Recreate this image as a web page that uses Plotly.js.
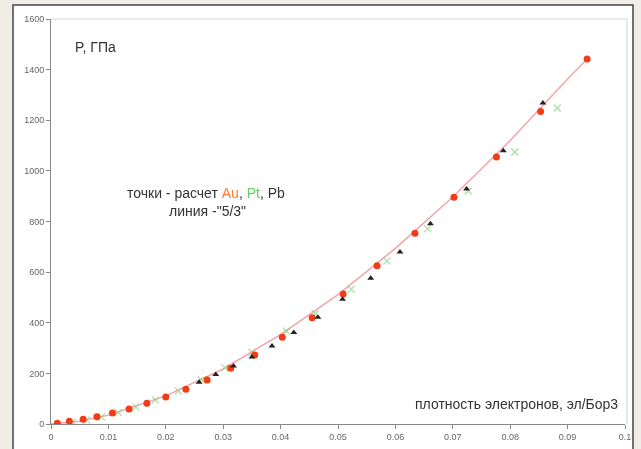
<!DOCTYPE html>
<html>
<head>
<meta charset="utf-8">
<script src="https://cdn.plot.ly/plotly-3.0.1.min.js"></script>
<style>html,body{margin:0;padding:0;background:#efede6;}#chart{width:641px;height:449px;}</style>
</head>
<body>
<div id="chart"></div>
<script>
// Au (red dots)
const auX = [0.0011, 0.0032, 0.0056, 0.0080, 0.0107, 0.0136, 0.0167, 0.0200, 0.0235, 0.0272, 0.0313, 0.0355, 0.0403, 0.0455, 0.0509, 0.0568, 0.0634, 0.0702, 0.0776, 0.0853, 0.0934];
const auY = [3, 11, 19, 29, 43, 59, 82, 107, 137, 174, 220, 273, 343, 420, 514, 625, 754, 896, 1055, 1235, 1442];
// Pt (green crosses)
const ptX = [0.0037, 0.0062, 0.0088, 0.0117, 0.0148, 0.0182, 0.0222, 0.0262, 0.0303, 0.0350, 0.0410, 0.0460, 0.0523, 0.0585, 0.0656, 0.0727, 0.0808, 0.0882];
const ptY = [7, 16, 28, 45, 67, 95, 130, 174, 222, 283, 367, 435, 532, 644, 771, 921, 1074, 1248];
// Pb (black triangles)
const pbX = [0.0258, 0.0287, 0.0318, 0.0350, 0.0385, 0.0423, 0.0465, 0.0508, 0.0557, 0.0608, 0.0661, 0.0724, 0.0788, 0.0857];
const pbY = [165, 196, 229, 265, 308, 361, 422, 493, 576, 680, 791, 928, 1080, 1268];
// "5/3" line
const lineX = [0, 0.005, 0.01, 0.02, 0.03, 0.04, 0.05, 0.06, 0.07, 0.08, 0.09, 0.0934];
const lineY = [0, 11, 35, 111, 218, 353, 511, 694, 897, 1120, 1363, 1442];

const xTicks = [0, 0.01, 0.02, 0.03, 0.04, 0.05, 0.06, 0.07, 0.08, 0.09, 0.1];
const xTickText = ['0', '0.01', '0.02', '0.03', '0.04', '0.05', '0.06', '0.07', '0.08', '0.09', '0.1'];
const yTicks = [0, 200, 400, 600, 800, 1000, 1200, 1400, 1600];

const traces = [
  {x: lineX, y: lineY, mode: 'lines', line: {color: '#f5a3ab', width: 1.5}, hoverinfo: 'skip'},
  {x: ptX, y: ptY, mode: 'markers', marker: {symbol: 'x-thin', size: 7, color: '#86d07e', line: {color: '#86d07e', width: 1.5}}, opacity: 0.6},
  {x: auX, y: auY, mode: 'markers', marker: {symbol: 'circle', size: 7, color: '#f23c16'}},
  {x: pbX, y: pbY, mode: 'markers', marker: {symbol: 'triangle-up', size: 6, color: '#222222'}}
];

const L = 51, R = 16, T = 19, B = 25;
const W = 641, H = 449;
const pw = W - L - R, ph = H - T - B;
function px2x(p) { return (p - L) / pw; }
function py2y(p) { return (H - B - p) / ph; }

const layout = {
  width: W, height: H,
  margin: {l: L, r: R, t: T, b: B},
  paper_bgcolor: '#efede6',
  plot_bgcolor: '#ffffff',
  showlegend: false,
  font: {family: 'Liberation Sans, Arial, sans-serif', color: '#333'},
  xaxis: {
    range: [0, 0.1], tickvals: xTicks, ticktext: xTickText,
    showgrid: false, zeroline: false, showline: true, linecolor: '#888', linewidth: 1,
    ticks: 'outside', ticklen: 4, tickcolor: '#888',
    tickfont: {size: 9, color: '#666'}
  },
  yaxis: {
    range: [0, 1600], tickvals: yTicks,
    showgrid: false, zeroline: false, showline: true, linecolor: '#888', linewidth: 1,
    ticks: 'outside', ticklen: 4, tickcolor: '#888',
    tickfont: {size: 9, color: '#666'}
  },
  shapes: [
    {type: 'rect', xref: 'paper', yref: 'paper', layer: 'below',
     x0: px2x(13), x1: px2x(633), y0: py2y(460), y1: py2y(5),
     fillcolor: '#ffffff', line: {color: '#444', width: 1.5}},
    {type: 'line', xref: 'paper', yref: 'paper', layer: 'below',
     x0: 0, x1: px2x(627), y0: 1, y1: 1, line: {color: '#d4d4d4', width: 1}},
    {type: 'line', xref: 'paper', yref: 'paper', layer: 'below',
     x0: px2x(627), x1: px2x(627), y0: 0, y1: 1, line: {color: '#d4d4d4', width: 1}}
  ],
  annotations: [
    {xref: 'paper', yref: 'paper', x: px2x(73), y: py2y(47), xanchor: 'left', yanchor: 'middle',
     text: 'P, ГПа', showarrow: false, font: {size: 14, color: '#333'}},
    {xref: 'paper', yref: 'paper', x: px2x(206), y: py2y(193), xanchor: 'center', yanchor: 'middle',
     text: 'точки - расчет <span style="color:#ff7a33">Au</span>, <span style="color:#5fcf5f">Pt</span>, Pb',
     showarrow: false, font: {size: 14, color: '#333'}},
    {xref: 'paper', yref: 'paper', x: px2x(208), y: py2y(211), xanchor: 'center', yanchor: 'middle',
     text: 'линия -"5/3"', showarrow: false, font: {size: 14, color: '#333'}},
    {xref: 'paper', yref: 'paper', x: px2x(620), y: py2y(404), xanchor: 'right', yanchor: 'middle',
     text: 'плотность электронов, эл/Бор3', showarrow: false, font: {size: 14, color: '#333'}}
  ]
};

Plotly.newPlot('chart', traces, layout, {displayModeBar: false, staticPlot: true});
</script>
</body>
</html>
